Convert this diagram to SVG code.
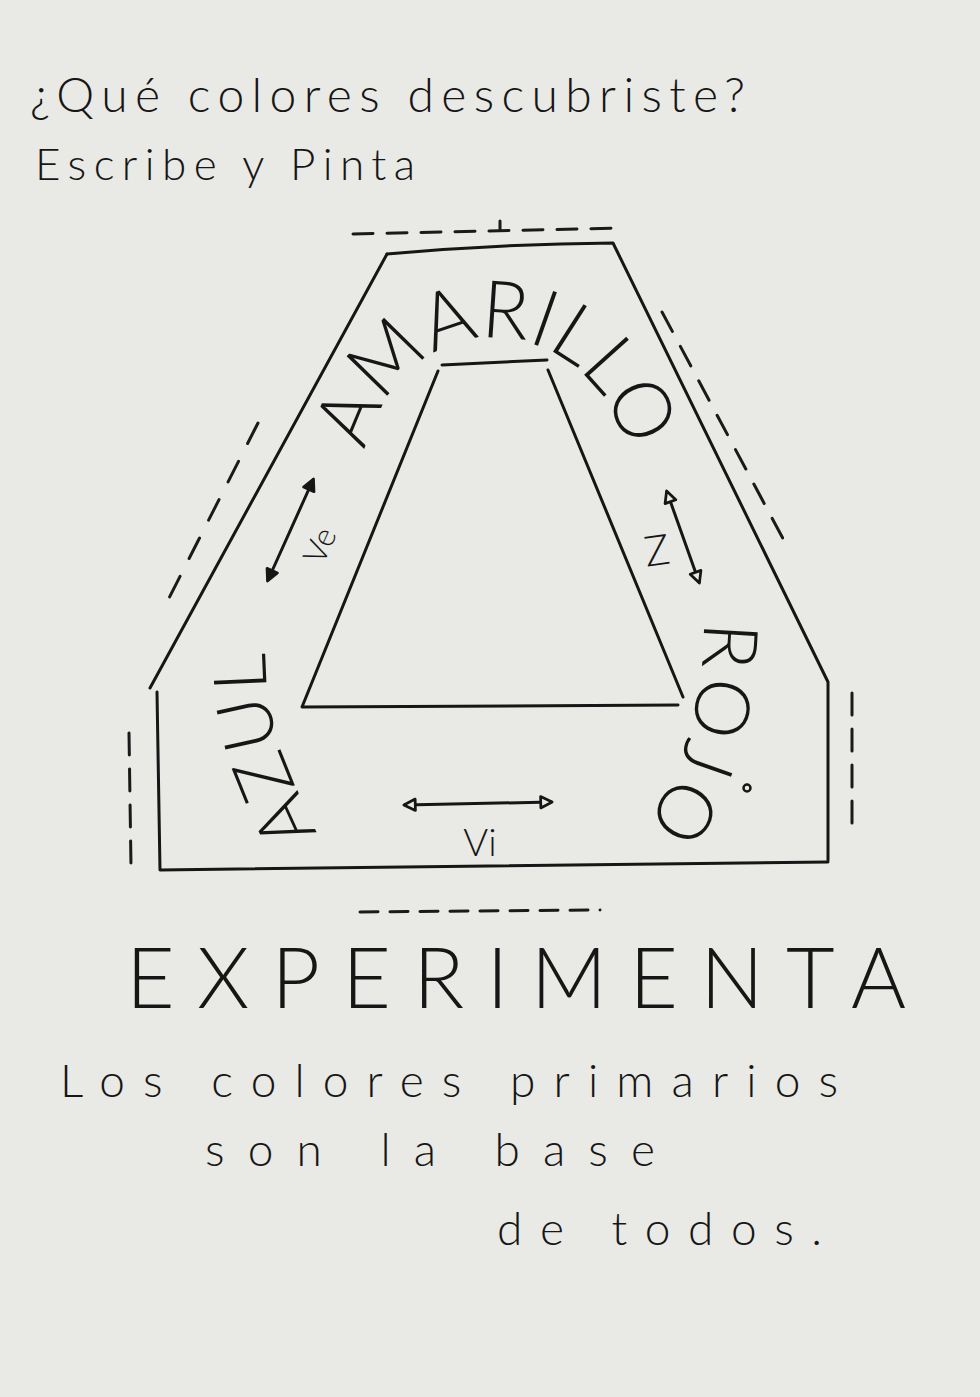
<svg xmlns="http://www.w3.org/2000/svg" width="980" height="1397" viewBox="0 0 980 1397">
<defs>
<style>
.ln{fill:none;stroke:#161616;stroke-width:3;stroke-linecap:round;stroke-linejoin:round}
.ds{fill:none;stroke:#1a1a1a;stroke-width:3;stroke-linecap:round}
.tx{font-family:Lato,"Liberation Sans",sans-serif;font-weight:300;fill:#161616}
</style>
<marker id="ah" viewBox="0 0 14 14" refX="11" refY="7" markerWidth="16" markerHeight="16" markerUnits="userSpaceOnUse" orient="auto-start-reverse">
<path d="M2,2 L12,7 L2,12 Z" fill="#e9e9e5" stroke="#161616" stroke-width="2.4" stroke-linejoin="round"/>
</marker>
<marker id="ahf" viewBox="0 0 14 14" refX="11" refY="7" markerWidth="16" markerHeight="16" markerUnits="userSpaceOnUse" orient="auto-start-reverse">
<path d="M2,2 L12,7 L2,12 Z" fill="#161616" stroke="#161616" stroke-width="2.4" stroke-linejoin="round"/>
</marker>
<path id="amaPath" d="M365,452 C405,300 585,300 628,452"/>
<path id="azulPath" d="M322,845 C290,770 262,730 266,640"/>
<path id="rojoPath" d="M704,612 C704,690 690,765 640,832"/>
</defs>
<rect width="980" height="1397" fill="#e9e9e5"/>

<g id="titles">
<text class="tx" x="30" y="112" font-size="48" textLength="715" lengthAdjust="spacing">¿Qué colores descubriste?</text>
<text class="tx" x="35" y="180" font-size="44" textLength="380" lengthAdjust="spacing">Escribe y Pinta</text>
</g>

<g id="outer-shape">
<path class="ln" d="M387,254 Q500,244 613,243 L828,682 L828,860"/>
<path class="ln" d="M387,254 L150,688"/>
<path class="ln" d="M157,692 L160,870 L828,862"/>
</g>

<g id="inner-triangle">
<path class="ln" d="M442,365 L547,360 M548,370 L683,697 M678,705 L302,707 L438,371"/>
</g>

<g id="dashes">
<path class="ds" d="M353,234 L620,228" stroke-dasharray="20,14"/>
<path class="ds" d="M500,221 L500,230"/>
<path class="ds" d="M258,423 L168,600" stroke-dasharray="23,20"/>
<path class="ds" d="M662,312 L788,548" stroke-dasharray="22,17"/>
<path class="ds" d="M129,733 L131,867" stroke-dasharray="22,14"/>
<path class="ds" d="M852,693 L852,834" stroke-dasharray="22,14"/>
<path class="ds" d="M360,912 L600,910" stroke-dasharray="18,12"/>
</g>

<g id="connectors">
<path class="ln" d="M313,480 L268,580" marker-start="url(#ahf)" marker-end="url(#ahf)"/>
<path class="ln" d="M667,492 L699,582" marker-start="url(#ah)" marker-end="url(#ah)"/>
<path class="ln" d="M405,805 L551,802" marker-start="url(#ah)" marker-end="url(#ah)"/>
</g>

<g id="labels">
<text class="tx" font-size="80"><textPath href="#amaPath" startOffset="50%" text-anchor="middle" textLength="372" lengthAdjust="spacingAndGlyphs">AMARILLO</textPath></text>
<text class="tx" font-size="74"><textPath href="#azulPath" startOffset="50%" text-anchor="middle" textLength="190" lengthAdjust="spacing">AZUL</textPath></text>
<text class="tx" font-size="76"><textPath href="#rojoPath" startOffset="50%" text-anchor="middle" textLength="215" lengthAdjust="spacing">ROJO</textPath></text>
<circle cx="747" cy="788" r="3.5" fill="none" stroke="#161616" stroke-width="2.5"/>
<text class="tx" font-size="32" text-anchor="middle" transform="translate(330,550) rotate(-66)">Ve</text>
<text class="tx" font-size="42" text-anchor="middle" transform="translate(659,565) rotate(-8)">Z</text>
<text class="tx" font-size="38" text-anchor="middle" x="480" y="856">Vi</text>
</g>

<g id="bottom-text">
<text class="tx" x="126" y="1008" font-size="84" textLength="780" lengthAdjust="spacing">EXPERIMENTA</text>
<text class="tx" x="60" y="1097" font-size="46" textLength="778" lengthAdjust="spacing">Los colores primarios</text>
<text class="tx" x="205" y="1166" font-size="46" textLength="450" lengthAdjust="spacing">son la base</text>
<text class="tx" x="497" y="1245" font-size="46" textLength="325" lengthAdjust="spacing">de todos.</text>
</g>
</svg>
